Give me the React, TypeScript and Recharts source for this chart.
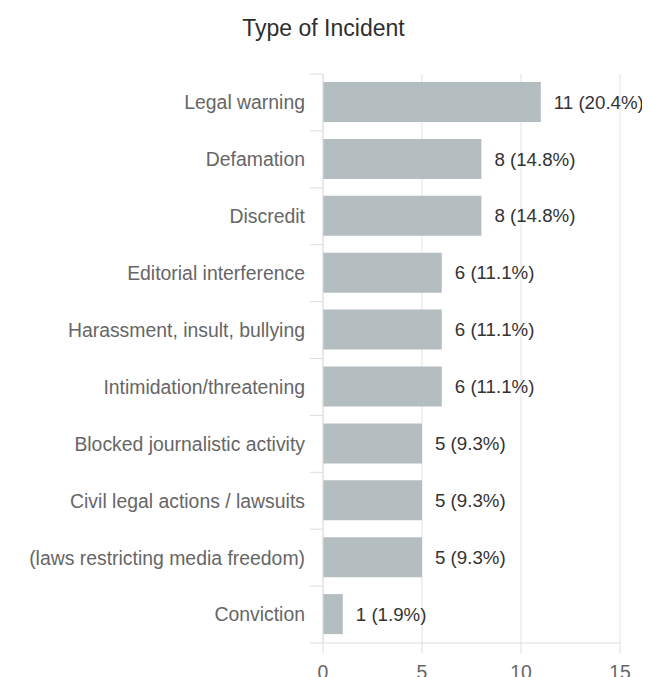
import React from 'react';
import { Bar, BarChart, CartesianGrid, LabelList, XAxis, YAxis } from 'recharts';

const categories = [
  "Legal warning",
  "Defamation",
  "Discredit",
  "Editorial interference",
  "Harassment, insult, bullying",
  "Intimidation/threatening",
  "Blocked journalistic activity",
  "Civil legal actions / lawsuits",
  "(laws restricting media freedom)",
  "Conviction",
];

const counts = [11, 8, 8, 6, 6, 6, 5, 5, 5, 1];

const shares = ["20.4%", "14.8%", "14.8%", "11.1%", "11.1%", "11.1%", "9.3%", "9.3%", "9.3%", "1.9%"];

const xTicks = [0, 5, 10, 15];

const data = categories.map((name, i) => ({
  name,
  value: counts[i],
  label: `${counts[i]} (${shares[i]})`,
}));

const FONT = '"Liberation Sans", Arial, sans-serif';
const AXIS_X = 315;
const PLOT_H = 569;
const BAND = PLOT_H / categories.length;

const CategoryTick = (props: any) => {
  const { y, payload, index } = props;
  const top = y - BAND / 2;
  return (
    <g>
      <line x1={AXIS_X - 13} x2={AXIS_X} y1={top} y2={top} stroke="#dedede" />
      {index === categories.length - 1 && (
        <line x1={AXIS_X - 13} x2={AXIS_X} y1={top + BAND} y2={top + BAND} stroke="#dedede" />
      )}
      <text x={AXIS_X - 18} y={y} dy="0.355em" textAnchor="end" fill="#666" fontSize={19.4} fontFamily={FONT}>
        {payload.value}
      </text>
    </g>
  );
};

const App = () => {
  return (
    <div style={{ position: 'relative', width: 642, height: 669 }}>
      <div
        style={{
          position: 'absolute',
          top: 9,
          left: 0,
          width: 631,
          textAlign: 'center',
          fontFamily: FONT,
          fontSize: 23,
          lineHeight: '22px',
          color: '#2e2e2e',
        }}
      >
        Type of Incident
      </div>
      <BarChart
        width={642}
        height={669}
        data={data}
        layout="vertical"
        margin={{ top: 66, right: 30, bottom: 4, left: 0 }}
      >
        <CartesianGrid horizontal={false} stroke="#e3e3e3" />
        <XAxis
          type="number"
          domain={[0, 15]}
          ticks={xTicks}
          height={30}
          tickSize={10}
          tickMargin={12}
          axisLine={{ stroke: '#dedede' }}
          tickLine={{ stroke: '#dedede' }}
          tick={{ fill: '#666', fontSize: 19.4, fontFamily: FONT }}
        />
        <YAxis
          type="category"
          dataKey="name"
          width={315}
          axisLine={{ stroke: '#dedede' }}
          tickLine={false}
          interval={0}
          tick={<CategoryTick />}
        />
        <Bar dataKey="value" barSize={40} fill="#aab4b7" fillOpacity={0.88} isAnimationActive={false}>
          <LabelList dataKey="label" position="right" offset={13} fill="#333" fontSize={18.7} fontFamily={FONT} />
        </Bar>
      </BarChart>
    </div>
  );
};

export default App;
